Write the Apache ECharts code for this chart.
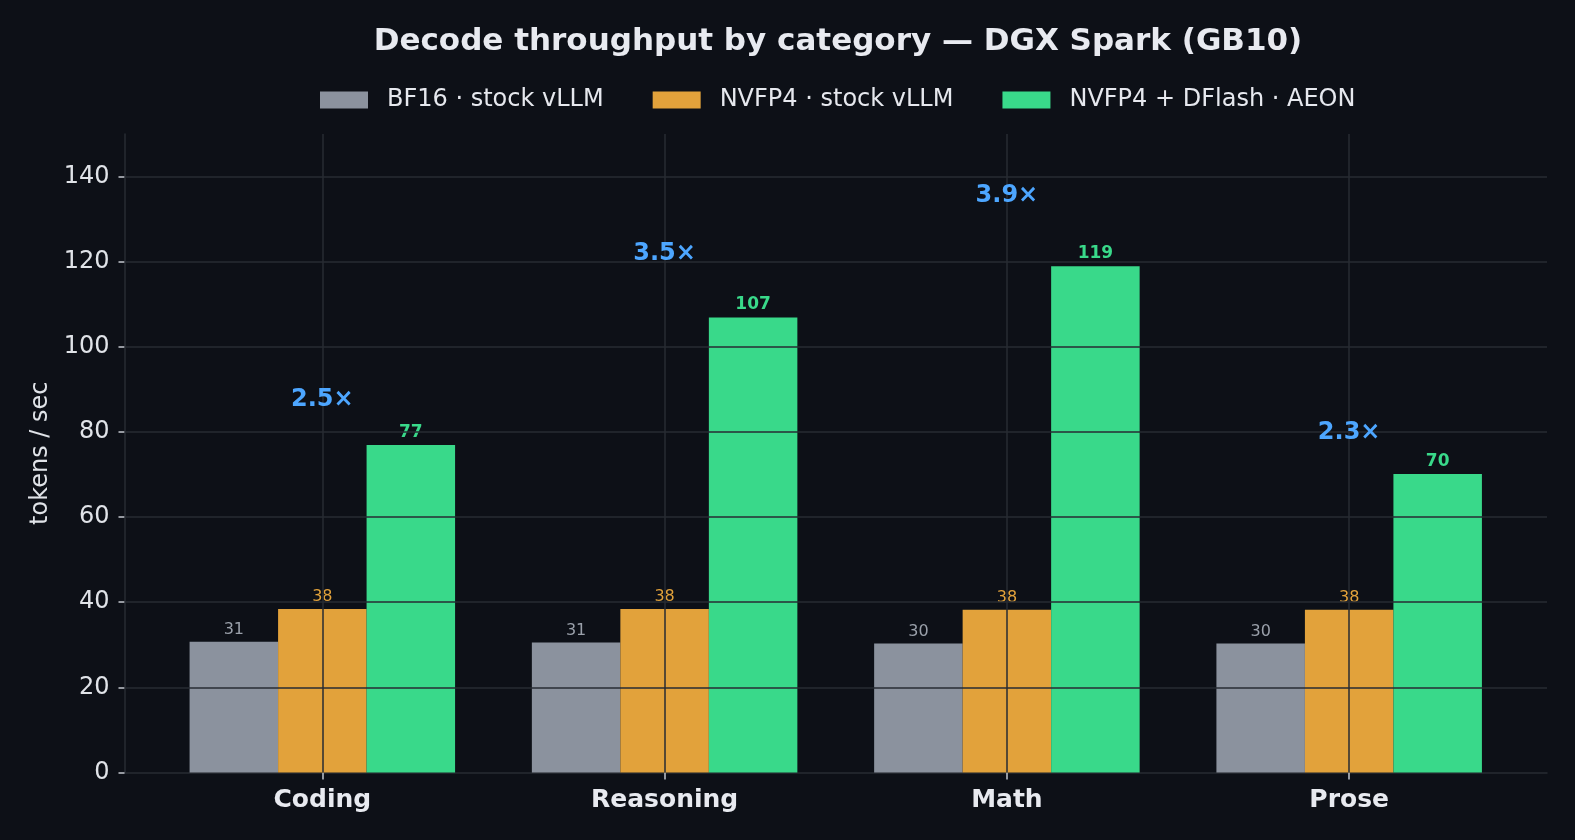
<!DOCTYPE html>
<html>
<head>
<meta charset="utf-8">
<script src="https://cdn.jsdelivr.net/npm/echarts@6/dist/echarts.min.js"></script>
<style>
html,body{margin:0;padding:0;background:#0d1017;}
#chart{width:1575px;height:840px;}
</style>
</head>
<body>
<div id="chart"></div>
<script>
const categories = ['Coding', 'Reasoning', 'Math', 'Prose'];
const seriesNames = ['BF16 · stock vLLM', 'NVFP4 · stock vLLM', 'NVFP4 + DFlash · AEON'];
const bf16 = [30.7, 30.5, 30.3, 30.3];
const nvfp4 = [38.4, 38.4, 38.2, 38.2];
const dflash = [76.9, 106.9, 118.9, 70.1];
const speedups = ['2.5×', '3.5×', '3.9×', '2.3×'];
const yTicks = [0, 20, 40, 60, 80, 100, 120, 140];

const FONT = '"DejaVu Sans", sans-serif';
const GRID = '#272b33';
const colors = ['#8b929e', '#e2a23b', '#39d98a'];
const labelColors = ['#9aa0aa', '#e2a23b', '#39d98a'];
const values = [bf16, nvfp4, dflash];

const chart = echarts.init(document.getElementById('chart'), null, {renderer: 'canvas'});

const barSeries = values.map((arr, k) => ({
  name: seriesNames[k],
  type: 'bar',
  barWidth: 88.5,
  barGap: '0%',
  z: 2,
  itemStyle: {color: colors[k]},
  label: {
    show: true,
    position: 'top',
    distance: 4,
    color: labelColors[k],
    fontFamily: FONT,
    fontSize: k === 2 ? 17 : 16,
    fontWeight: k === 2 ? 'bold' : 'normal',
    formatter: p => String(Math.round(p.value[1]))
  },
  data: arr.map((v, i) => [i, v])
}));

const option = {
  backgroundColor: '#0d1017',
  animation: false,
  title: {
    text: 'Decode throughput by category — DGX Spark (GB10)',
    left: 833,
    textAlign: 'center',
    top: 21,
    textStyle: {color: '#e8eaf0', fontFamily: FONT, fontSize: 31, fontWeight: 'bold'}
  },
  legend: {
    data: seriesNames,
    top: 83,
    left: 315,
    itemWidth: 48,
    itemHeight: 17,
    itemGap: 49,
    icon: 'rect',
    textStyle: {color: '#e6e8ee', fontFamily: FONT, fontSize: 24, padding: [0, 0, 0, 14]}
  },
  grid: {left: 124.5, right: 28, top: 134, bottom: 67.6, containLabel: false},
  xAxis: {
    type: 'value',
    min: -0.578,
    max: 3.578,
    splitLine: {show: false},
    axisLine: {show: true, onZero: false, lineStyle: {color: GRID, width: 1.5}},
    axisTick: {show: true, length: 7, lineStyle: {color: '#c4c8d0', width: 1.5}, customValues: [0, 1, 2, 3]},
    axisLabel: {
      show: true,
      customValues: [0, 1, 2, 3],
      formatter: v => categories[Math.round(v)] || '',
      margin: 16,
      color: '#e8eaf0',
      fontFamily: FONT,
      fontSize: 25,
      fontWeight: 'bold'
    }
  },
  yAxis: {
    type: 'value',
    min: 0,
    max: 150,
    name: 'tokens / sec',
    nameLocation: 'middle',
    nameGap: 72,
    nameRotate: 90,
    nameTextStyle: {color: '#e0e3e8', fontFamily: FONT, fontSize: 24},
    splitLine: {show: false},
    axisLine: {show: true, onZero: false, lineStyle: {color: GRID, width: 1.5}},
    axisTick: {show: true, length: 6, lineStyle: {color: '#c4c8d0', width: 1.5}, customValues: yTicks},
    axisLabel: {
      show: true,
      customValues: yTicks,
      margin: 15,
      color: '#e0e3e8',
      fontFamily: FONT,
      fontSize: 24
    }
  },
  series: [
    ...barSeries,
    {
      name: 'speedup',
      type: 'scatter',
      symbolSize: 1,
      z: 5,
      itemStyle: {color: 'rgba(0,0,0,0)', opacity: 1},
      label: {
        show: true,
        position: 'inside',
        color: '#4da6ff',
        opacity: 1,
        textBorderWidth: 0,
        fontFamily: FONT,
        fontSize: 24,
        fontWeight: 'bold',
        formatter: p => speedups[p.dataIndex]
      },
      data: dflash.map((v, i) => [i, v * 1.14])
    },
    {
      name: 'gridlines',
      type: 'line',
      data: [],
      z: 10,
      silent: true,
      markLine: {
        silent: true,
        symbol: 'none',
        animation: false,
        label: {show: false},
        lineStyle: {color: GRID, width: 1.5, type: 'solid'},
        emphasis: {disabled: true},
        data: [
          ...yTicks.slice(1).map(v => ({yAxis: v})),
          ...categories.map((c, i) => ({xAxis: i}))
        ]
      }
    }
  ]
};
chart.setOption(option);
</script>
</body>
</html>
